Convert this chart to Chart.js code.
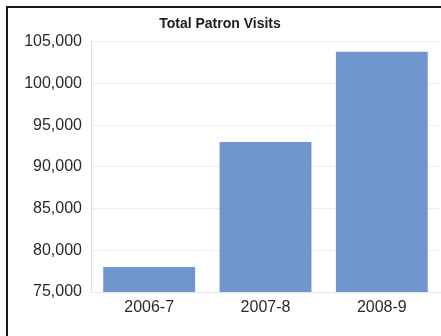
<!DOCTYPE html>
<html>
<head>
<meta charset="utf-8">
<script src="https://cdn.jsdelivr.net/npm/chart.js@4"></script>
<style>
    body { margin: 0; background: #fff; }
    #quadro { position: relative; width: 441px; height: 336px; overflow: hidden; }
    #moldura { position: absolute; left: 6px; top: 6px; width: 500px; height: 400px;
        border-top: 2px solid #1a1a1a; border-left: 2px solid #1a1a1a; }
    #ChartVisitas { position: absolute; left: 0; top: 0; }
</style>
</head>
<body>
<div id="quadro">
    <div id="moldura"></div>
    <canvas id="ChartVisitas" width="441" height="336"></canvas>
</div>
<script>
    // anos e total de visitas
    let anos = ['2006-7', '2007-8', '2008-9']
    let visitas = [78000, 93000, 103800]

    // eixo y
    let minimo = 75000
    let maximo = 105000
    let passo = 5000

    var ctx = document.getElementById('ChartVisitas').getContext('2d')

    var chartVisitas = new Chart(ctx, {
        type: 'bar',
        data: {
            labels: anos,
            datasets: [{
                label: 'Total Patron Visits',
                data: visitas,
                backgroundColor: '#7195cd',
                borderWidth: 0,
                categoryPercentage: 1,
                barPercentage: 0.79
            }]
        },
        options: {
            responsive: false,
            animation: false,
            layout: { padding: { left: 0, right: 1, top: 0, bottom: 0 } },
            plugins: {
                legend: { display: false },
                tooltip: { enabled: false },
                title: {
                    display: true,
                    text: 'Total Patron Visits',
                    color: '#1e1e1e',
                    font: { family: 'Liberation Sans', size: 14, weight: 'bold' },
                    padding: { top: 16, bottom: 9 }
                }
            },
            scales: {
                x: {
                    grid: { display: false, drawTicks: false },
                    border: { color: '#e6e6e6' },
                    ticks: {
                        color: '#2a2a2a',
                        padding: 6,
                        font: { family: 'Liberation Sans', size: 16 }
                    },
                    afterFit: scale => { scale.height = 44 }
                },
                y: {
                    min: minimo,
                    max: maximo,
                    grid: { color: '#eeeeee', drawTicks: false },
                    border: { color: '#dddddd' },
                    ticks: {
                        stepSize: passo,
                        color: '#2a2a2a',
                        padding: 9,
                        font: { family: 'Liberation Sans', size: 16 },
                        callback: valor => valor.toLocaleString('en-US')
                    },
                    afterFit: scale => { scale.width = 91 }
                }
            }
        }
    })
</script>
</body>
</html>
